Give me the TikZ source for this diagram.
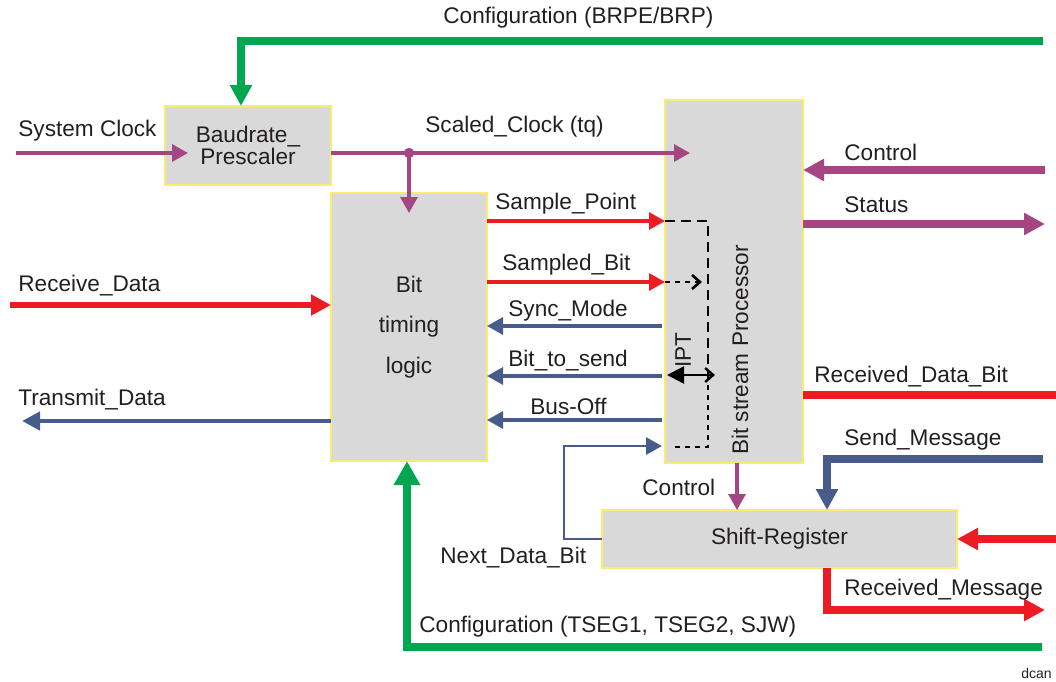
\documentclass[tikz,border=0pt]{standalone}
\usepackage{fontspec}
\setmainfont{Liberation Sans}
\usetikzlibrary{arrows.meta}

\definecolor{cPurple}{RGB}{165,70,130}
\definecolor{cRed}{RGB}{237,28,36}
\definecolor{cBlue}{RGB}{72,92,140}
\definecolor{cGreen}{RGB}{0,166,80}
\definecolor{cBox}{RGB}{217,217,217}
\definecolor{cFrame}{RGB}{248,236,110}
\definecolor{cText}{RGB}{35,31,32}

\begin{document}
\begin{tikzpicture}[x=0.5pt, y=-0.5pt,
	block/.style={draw=cFrame, fill=cBox, line width=1pt, inner sep=0pt, outer sep=0pt, text=cText, align=center},
	lbl/.style={anchor=west, inner sep=0pt, text=cText},
	thinsig/.style={line width=1.6pt, -{Triangle[length=8pt,width=8.5pt]}},
	thicksig/.style={line width=3.6pt, -{Triangle[length=10.5pt,width=10.5pt]}},
	cfgsig/.style={line width=3.8pt, color=cGreen},
	font=\fontsize{11.3}{13.6}\selectfont]
	% Bildbereich
	\useasboundingbox (0,0) rectangle (1056,681);
	% Bloecke
	\node[block, minimum width=83pt, minimum height=39.5pt] (bp) at (248,145.5) {Baudrate\_\\[-2.5pt]Prescaler};
	\node[block, minimum width=78pt, minimum height=134pt] (btl) at (409,327) {Bit\\[6.5pt]timing\\[6.5pt]logic};
	\node[block, minimum width=69pt, minimum height=181.5pt] (bsp) at (734,281.5) {};
	\node[block, minimum width=177.5pt, minimum height=29pt] (sr) at (779.5,539) {Shift-Register};
	\node[rotate=90, inner sep=0pt, text=cText] (bsptxt) at (740,350) {Bit stream Processor};
	% freie Enden
	\coordinate (cfgtop) at (1043,41);
	\coordinate (cfgbot) at (1042,647);
	\coordinate (sysclk) at (16,153);
	\coordinate (bpin) at (188,153);
	\coordinate (split) at (409,153);
	\coordinate (btlin) at (409,213);
	\coordinate (bspin) at (690,153);
	\coordinate (rxd) at (10,305);
	\coordinate (txd) at (22,421);
	\coordinate (ctrl) at (1045,170);
	\coordinate (stat) at (1045,224);
	\coordinate (rdb) at (1056,395);
	\coordinate (smsg) at (1043,459);
	\coordinate (srin) at (1056,539);
	\coordinate (rmsg) at (1045,610);
	\coordinate (ndb) at (662,446);
	% Konfiguration
	\draw[cfgsig, -{Triangle[length=10.5pt,width=10.5pt]}] (cfgtop) -| (bp.north -| 241,0);
	\draw[cfgsig, -{Triangle[length=12pt,width=12.5pt]}] (cfgbot) -| (btl.south -| 407,0);
	% Takt
	\draw[thinsig, cPurple] (sysclk) -- (bpin);
	\draw[thinsig, cPurple] (bp.east |- split) -- (bspin);
	\fill[cPurple] (split) circle[radius=2.6pt];
	\draw[thinsig, cPurple] (split) -- (btlin);
	% Bit timing logic <-> Bit stream Processor
	\draw[thinsig, cRed] (btl.east |- 0,221) -- (bsp.west |- 0,221);
	\draw[thinsig, cRed] (btl.east |- 0,282) -- (bsp.west |- 0,282);
	\draw[thinsig, cBlue] (662,326) -- (btl.east |- 0,326);
	\draw[thinsig, cBlue] (662,376) -- (btl.east |- 0,376);
	\draw[thinsig, cBlue] (662,420) -- (btl.east |- 0,420);
	% Daten links
	\draw[line width=3pt, cRed, -{Triangle[length=10pt,width=10pt]}] (rxd) -- (btl.west |- rxd);
	\draw[line width=2.4pt, cBlue, -{Triangle[length=9pt,width=9pt]}] (btl.west |- txd) -- (txd);
	% rechts
	\draw[thicksig, cPurple] (ctrl) -- (bsp.east |- ctrl);
	\draw[thicksig, cPurple] (bsp.east |- stat) -- (stat);
	\draw[line width=3.6pt, cRed] (bsp.east |- rdb) -- (rdb);
	\draw[thicksig, cBlue] (smsg) -| (sr.north -| 827,0);
	\draw[thicksig, cRed] (srin) -- (sr.east |- srin);
	\draw[thicksig, cRed] (sr.south -| 827,0) |- (rmsg);
	\draw[thinsig, cPurple] (bsp.south -| 737,0) -- (sr.north -| 737,0);
	\draw[line width=1.4pt, cBlue, -{Triangle[length=8pt,width=8.5pt]}] (sr.west) -| (ndb -| 564,0) -- (ndb);
	% interne Pfade (gestrichelt)
	\coordinate (dtr) at (708,221);
	\coordinate (ipt) at (708,375);
	\coordinate (dbr) at (708,447);
	\coordinate (dbl) at (673,447);
	\draw[line width=1.4pt, dash pattern=on 5pt off 3pt] (bsp.west |- dtr) -- (dtr) -- (ipt);
	\draw[line width=1.4pt, dash pattern=on 2.5pt off 2.5pt] (ipt) -- (dbr) -- (dbl);
	\draw[line width=1.3pt, dash pattern=on 2.5pt off 2.5pt, -{Straight Barb[length=4pt,width=7pt]}] (bsp.west |- 0,282) -- (702,282);
	\draw[line width=1.2pt, {Triangle[length=8.5pt,width=8.5pt]}-{Straight Barb[length=4pt,width=7pt]}] (667,375) -- (715,375);
	\node[rotate=90, inner sep=0pt, text=cText] (ipttxt) at (683,350) {IPT};
	% Beschriftung
	\node[lbl] at (443,18) {Configuration (BRPE/BRP)};
	\node[lbl] at (18,131) {System Clock};
	\node[lbl] at (425,127) {Scaled\_Clock (tq)};
	\node[lbl] at (495,204) {Sample\_Point};
	\node[lbl] at (502,265) {Sampled\_Bit};
	\node[lbl] at (508,311) {Sync\_Mode};
	\node[lbl] at (508,361) {Bit\_to\_send};
	\node[lbl] at (530,406) {Bus-Off};
	\node[lbl] at (18,286) {Receive\_Data};
	\node[lbl] at (18,400) {Transmit\_Data};
	\node[lbl] at (844,152) {Control};
	\node[lbl] at (844,205) {Status};
	\node[lbl] at (814,377) {Received\_Data\_Bit};
	\node[lbl] at (844,440) {Send\_Message};
	\node[lbl] at (642,487) {Control};
	\node[lbl] at (440,558) {Next\_Data\_Bit};
	\node[lbl] at (844,590) {Received\_Message};
	\node[lbl] at (419,627) {Configuration (TSEG1, TSEG2, SJW)};
	\node[lbl, font=\fontsize{7}{8}\selectfont] at (1021,673) {dcan};
\end{tikzpicture}
\end{document}
